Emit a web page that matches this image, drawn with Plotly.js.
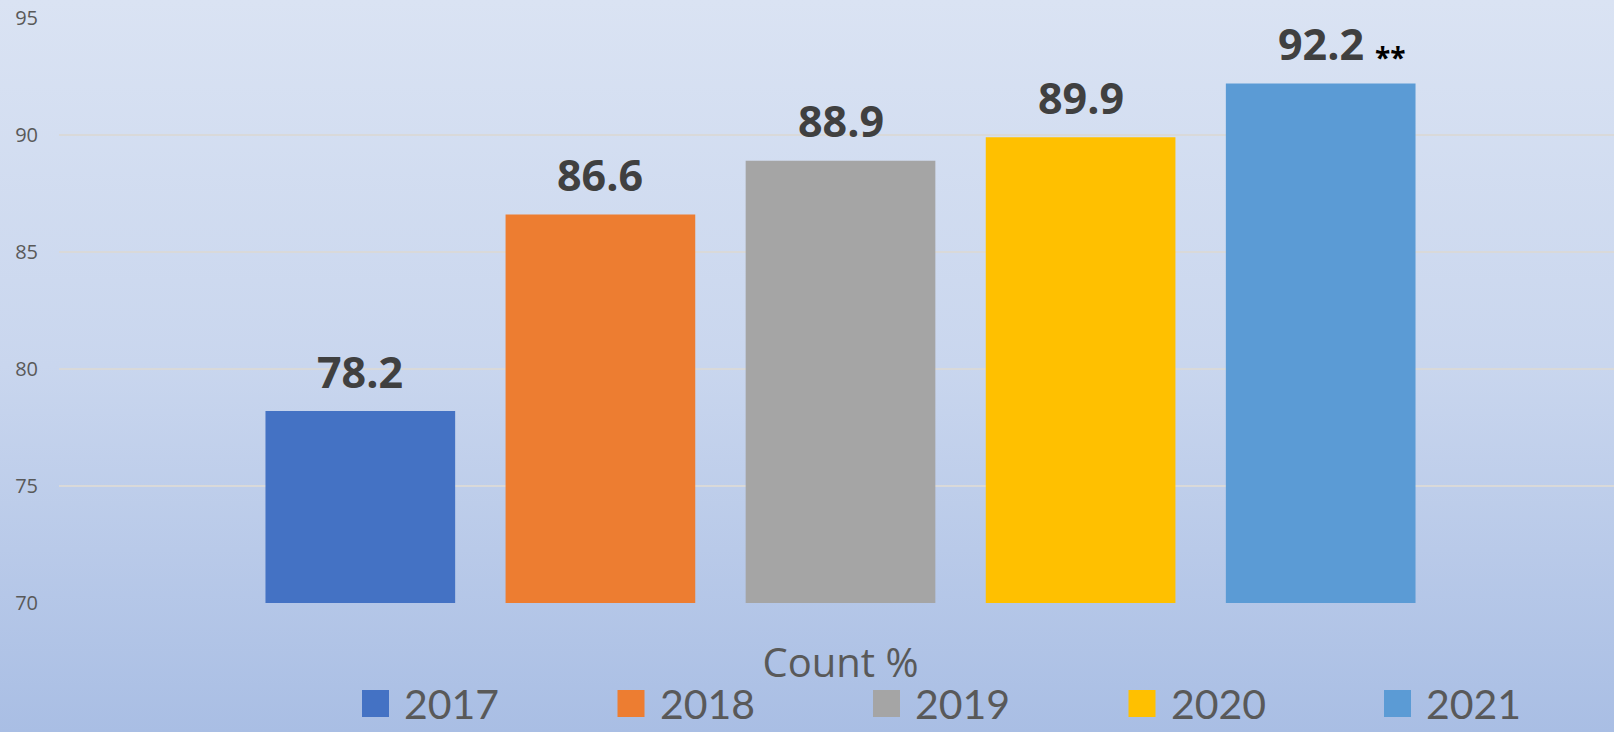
<!DOCTYPE html>
<html>
<head>
<meta charset="utf-8">
<script src="https://cdn.plot.ly/plotly-3.0.1.min.js"></script>
<style>
  html, body { margin: 0; padding: 0; }
  body {
    width: 1614px; height: 732px; overflow: hidden;
    background: linear-gradient(to bottom, #DAE3F3 0%, #C9D6EE 50%, #A9BEE4 100%);
  }
  #chart { width: 1614px; height: 732px; }
</style>
</head>
<body>
<div id="chart"></div>
<script>
// ---- data ----
const category = ['Count %'];
const years = ['2017', '2018', '2019', '2020', '2021'];
const values = [78.2, 86.6, 88.9, 89.9, 92.2];
const colors = ['#4472C4', '#ED7D31', '#A5A5A5', '#FFC000', '#5B9BD5'];
const yTicks = [70, 75, 80, 85, 90, 95];
const note2021 = '**';

// ---- layout constants ----
const W = 1614, H = 732;
const M = { l: 59, r: 0, t: 18, b: 129 };
const plotW = W - M.l - M.r, plotH = H - M.t - M.b;
const bargap = 0.228, bargroupgap = 0.21;
const FONT = '"Open Sans", "Liberation Sans", sans-serif';
const LEGFONT = 'Lato, "Liberation Sans", sans-serif';
const px2paperX = px => (px - M.l) / plotW;
const px2paperY = py => (H - M.b - py) / plotH;

const traces = years.map((yr, i) => ({
  type: 'bar',
  name: yr,
  x: category,
  y: [values[i]],
  marker: { color: colors[i] },
  showlegend: false,
  hoverinfo: 'name+y'
}));

// value labels above each bar (centre of each bar in the group)
const n = years.length;
const slot = (1 - bargap) / n;
const barCentre = i => -(1 - bargap) / 2 + (i + 0.5) * slot;
const annotations = values.map((v, i) => ({
  xref: 'x', yref: 'y', x: barCentre(i), y: v,
  text: v.toFixed(1), showarrow: false,
  xanchor: 'center', yanchor: 'middle', yshift: 40,
  font: { family: FONT, size: 43, color: '#404040', weight: 'bold' }
}));
annotations.push({
  xref: 'x', yref: 'y', x: barCentre(n - 1), y: values[n - 1],
  text: note2021, showarrow: false,
  xanchor: 'center', yanchor: 'middle', xshift: 70, yshift: 27,
  font: { family: FONT, size: 28, color: '#000000', weight: 'bold' }
});

// manual legend (large square swatches like the original)
const legStartX = 362, legStep = 255.5, sw = 27, legTop = 690;
const shapes = [];
years.forEach((yr, i) => {
  const x0 = legStartX + i * legStep;
  shapes.push({
    type: 'rect', xref: 'paper', yref: 'paper', layer: 'above',
    x0: px2paperX(x0), x1: px2paperX(x0 + sw),
    y0: px2paperY(legTop + sw), y1: px2paperY(legTop),
    fillcolor: colors[i], line: { width: 0 }
  });
  annotations.push({
    xref: 'paper', yref: 'paper',
    x: px2paperX(x0 + sw + 14), y: px2paperY(legTop + sw / 2),
    text: yr, showarrow: false, xanchor: 'left', yanchor: 'middle',
    borderpad: 0,
    font: { family: LEGFONT, size: 41, color: '#595959' }
  });
});

const layout = {
  width: W, height: H,
  margin: M,
  paper_bgcolor: 'rgba(0,0,0,0)',
  plot_bgcolor: 'rgba(0,0,0,0)',
  barmode: 'group',
  bargap: bargap,
  bargroupgap: bargroupgap,
  showlegend: false,
  font: { family: FONT, color: '#595959' },
  xaxis: {
    type: 'category',
    range: [-0.5 - 4 / plotW, 0.5 - 4 / plotW],
    showgrid: false, zeroline: false, showline: false,
    ticks: '', ticklabelstandoff: 33,
    tickfont: { family: FONT, size: 40, color: '#595959' }
  },
  yaxis: {
    range: [70, 95],
    tickvals: yTicks,
    showgrid: true, gridcolor: '#D9D9D9', gridwidth: 1.5,
    zeroline: false, showline: false, ticks: '',
    ticklabelstandoff: 20,
    tickfont: { family: FONT, size: 20, color: '#595959' }
  },
  annotations: annotations,
  shapes: shapes
};

Plotly.newPlot('chart', traces, layout, { displayModeBar: false, staticPlot: true });
</script>
</body>
</html>
